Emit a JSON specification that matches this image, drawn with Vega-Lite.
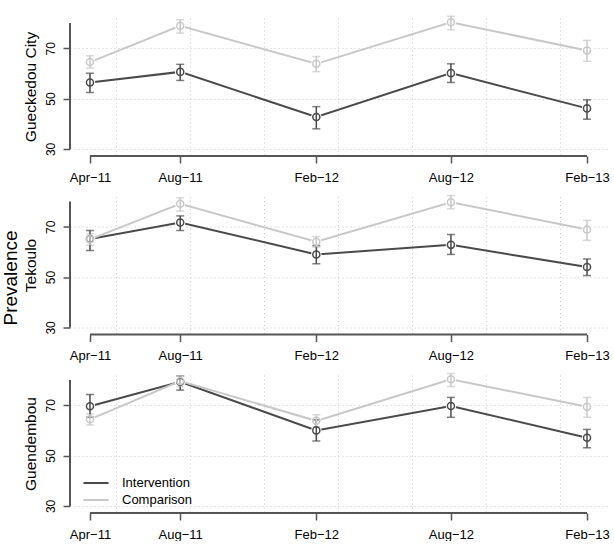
{
  "$schema": "https://vega.github.io/schema/vega-lite/v6.json",
  "padding": {"left": 1, "top": 15, "right": 0, "bottom": 0},
  "background": "white",
  "data": {"values": [
    {"site": "Gueckedou City", "group": "Intervention", "date": "2011-04-01", "value": 56.4, "lo": 52.4, "hi": 60.1},
    {"site": "Gueckedou City", "group": "Intervention", "date": "2011-08-01", "value": 60.6, "lo": 57.2, "hi": 63.6},
    {"site": "Gueckedou City", "group": "Intervention", "date": "2012-02-01", "value": 42.7, "lo": 38.0, "hi": 46.8},
    {"site": "Gueckedou City", "group": "Intervention", "date": "2012-08-01", "value": 60.1, "lo": 56.4, "hi": 63.8},
    {"site": "Gueckedou City", "group": "Intervention", "date": "2013-02-01", "value": 46.1, "lo": 41.8, "hi": 49.5},
    {"site": "Gueckedou City", "group": "Comparison", "date": "2011-04-01", "value": 64.5, "lo": 62.1, "hi": 67.0},
    {"site": "Gueckedou City", "group": "Comparison", "date": "2011-08-01", "value": 78.9, "lo": 76.0, "hi": 81.3},
    {"site": "Gueckedou City", "group": "Comparison", "date": "2012-02-01", "value": 63.8, "lo": 60.7, "hi": 66.7},
    {"site": "Gueckedou City", "group": "Comparison", "date": "2012-08-01", "value": 80.3, "lo": 77.3, "hi": 82.7},
    {"site": "Gueckedou City", "group": "Comparison", "date": "2013-02-01", "value": 69.1, "lo": 64.8, "hi": 73.1},
    {"site": "Tekoulo", "group": "Intervention", "date": "2011-04-01", "value": 65.1, "lo": 60.6, "hi": 68.5},
    {"site": "Tekoulo", "group": "Intervention", "date": "2011-08-01", "value": 71.7, "lo": 68.5, "hi": 74.3},
    {"site": "Tekoulo", "group": "Intervention", "date": "2012-02-01", "value": 59.0, "lo": 55.3, "hi": 62.5},
    {"site": "Tekoulo", "group": "Intervention", "date": "2012-08-01", "value": 62.8, "lo": 59.0, "hi": 66.9},
    {"site": "Tekoulo", "group": "Intervention", "date": "2013-02-01", "value": 54.0, "lo": 50.6, "hi": 57.2},
    {"site": "Tekoulo", "group": "Comparison", "date": "2011-04-01", "value": 65.0, "lo": 62.6, "hi": 67.2},
    {"site": "Tekoulo", "group": "Comparison", "date": "2011-08-01", "value": 79.1, "lo": 76.2, "hi": 81.5},
    {"site": "Tekoulo", "group": "Comparison", "date": "2012-02-01", "value": 64.0, "lo": 61.9, "hi": 66.1},
    {"site": "Tekoulo", "group": "Comparison", "date": "2012-08-01", "value": 79.7, "lo": 77.1, "hi": 82.4},
    {"site": "Tekoulo", "group": "Comparison", "date": "2013-02-01", "value": 68.9, "lo": 64.6, "hi": 72.5},
    {"site": "Guendembou", "group": "Intervention", "date": "2011-04-01", "value": 69.6, "lo": 65.2, "hi": 74.3},
    {"site": "Guendembou", "group": "Intervention", "date": "2011-08-01", "value": 79.3, "lo": 76.0, "hi": 81.6},
    {"site": "Guendembou", "group": "Intervention", "date": "2012-02-01", "value": 60.0, "lo": 55.8, "hi": 64.2},
    {"site": "Guendembou", "group": "Intervention", "date": "2012-08-01", "value": 69.7, "lo": 65.2, "hi": 73.1},
    {"site": "Guendembou", "group": "Intervention", "date": "2013-02-01", "value": 57.1, "lo": 53.1, "hi": 60.4},
    {"site": "Guendembou", "group": "Comparison", "date": "2011-04-01", "value": 64.4, "lo": 62.1, "hi": 66.5},
    {"site": "Guendembou", "group": "Comparison", "date": "2011-08-01", "value": 79.6, "lo": 77.4, "hi": 81.5},
    {"site": "Guendembou", "group": "Comparison", "date": "2012-02-01", "value": 63.8, "lo": 61.4, "hi": 66.2},
    {"site": "Guendembou", "group": "Comparison", "date": "2012-08-01", "value": 80.3, "lo": 77.4, "hi": 82.6},
    {"site": "Guendembou", "group": "Comparison", "date": "2013-02-01", "value": 69.4, "lo": 65.2, "hi": 73.1}
  ]},
  "facet": {
    "row": {
      "field": "site", "type": "nominal",
      "sort": ["Gueckedou City", "Tekoulo", "Guendembou"],
      "header": {
        "title": "Prevalence", "titleFontSize": 19, "titleFont": "Liberation Sans", "titleFontWeight": "normal", "titleColor": "black", "titlePadding": -8,
        "labelFontSize": 15.5, "labelFont": "Liberation Sans", "labelColor": "black", "labelPadding": -2, "labelAngle": -90
      }
    }
  },
  "spacing": {"row": 40.5},
  "bounds": "flush",
  "resolve": {"axis": {"x": "independent"}},
  "spec": {
    "width": 537,
    "height": 138,
    "resolve": {"axis": {"x": "independent"}},
    "layer": [
      {
        "mark": {"type": "line", "strokeWidth": 2},
        "encoding": {
          "x": {"field": "date", "type": "temporal",
            "scale": {"type": "utc", "domain": [{"year": 2011, "month": 3, "date": 5, "utc": true}, {"year": 2013, "month": 2, "date": 28, "utc": true}]},
            "axis": {"values": [{"year": 2011, "month": 4, "date": 1, "utc": true}, {"year": 2011, "month": 8, "date": 1, "utc": true}, {"year": 2012, "month": 2, "date": 1, "utc": true}, {"year": 2012, "month": 8, "date": 1, "utc": true}, {"year": 2013, "month": 2, "date": 1, "utc": true}],
              "format": "%b−%y", "title": null, "grid": false, "domain": false, "tickSize": 7, "tickColor": "#555", "tickWidth": 1.5, "labelFontSize": 13, "labelPadding": 8, "labelColor": "black", "labelFont": "Liberation Sans", "labelFlush": false, "labelOverlap": false}},
          "y": {"field": "value", "type": "quantitative",
            "scale": {"domain": [27.2, 82], "nice": false, "zero": false},
            "axis": {"values": [30, 40, 50, 60, 70, 80], "labelExpr": "datum.value % 20 == 10 ? datum.label : ''", "labelAngle": -90, "title": null, "domain": false, "tickSize": 7, "tickColor": "#555", "tickWidth": 1.5, "grid": true, "gridDash": [1, 3], "gridColor": "#c8c8c8", "labelFontSize": 12, "labelPadding": 6, "labelColor": "black", "labelFont": "Liberation Sans"}},
          "color": {"field": "group", "type": "nominal",
            "scale": {"domain": ["Intervention", "Comparison"], "range": ["#4a4a4a", "#c8c8c8"]},
            "legend": {"orient": "none", "legendX": 19.5, "legendY": 458.5, "title": null, "symbolType": "M-2.5,0H2.5", "symbolSize": 100, "symbolStrokeWidth": 2, "symbolFillColor": "transparent", "labelFontSize": 13, "labelFont": "Liberation Sans", "labelColor": "black", "labelOffset": 19.5, "rowPadding": 3}}
        }
      },
      {
        "mark": {"type": "point", "shape": "circle", "filled": true, "color": "white", "size": 110, "opacity": 1},
        "encoding": {
          "x": {"field": "date", "type": "temporal",
            "axis": {"values": [{"year": 2011, "month": 5, "date": 6, "utc": true}, {"year": 2011, "month": 8, "date": 14, "utc": true}, {"year": 2011, "month": 11, "date": 22, "utc": true}, {"year": 2012, "month": 3, "date": 1, "utc": true}, {"year": 2012, "month": 6, "date": 9, "utc": true}, {"year": 2012, "month": 9, "date": 17, "utc": true}, {"year": 2012, "month": 12, "date": 26, "utc": true}],
              "orient": "bottom", "grid": true, "gridDash": [1, 3], "gridColor": "#c8c8c8", "labels": false, "ticks": false, "domain": false, "title": null}},
          "y": {"field": "value", "type": "quantitative"}
        }
      },
      {
        "mark": {"type": "errorbar", "ticks": {"size": 8}, "thickness": 1.5},
        "encoding": {
          "x": {"field": "date", "type": "temporal", "axis": null},
          "y": {"field": "lo", "type": "quantitative"},
          "y2": {"field": "hi"},
          "color": {"field": "group", "type": "nominal", "legend": null}
        }
      },
      {
        "mark": {"type": "point", "shape": "circle", "filled": false, "size": 50, "strokeWidth": 1.5, "opacity": 1},
        "encoding": {
          "x": {"field": "date", "type": "temporal", "axis": null},
          "y": {"field": "value", "type": "quantitative"},
          "color": {"field": "group", "type": "nominal", "legend": null}
        }
      },
      {
        "transform": [{"aggregate": [{"op": "count", "as": "n"}], "groupby": ["site"]}],
        "mark": {"type": "rule", "color": "#555", "strokeWidth": 2},
        "encoding": {
          "x": {"datum": {"year": 2011, "month": 4, "date": 1, "utc": true}, "type": "temporal", "axis": null},
          "x2": {"datum": {"year": 2013, "month": 2, "date": 1, "utc": true}},
          "y": {"datum": 27.2, "type": "quantitative"}
        }
      },
      {
        "transform": [{"aggregate": [{"op": "count", "as": "n"}], "groupby": ["site"]}],
        "mark": {"type": "rule", "color": "#555", "strokeWidth": 2},
        "encoding": {
          "x": {"datum": {"year": 2011, "month": 3, "date": 5, "utc": true}, "type": "temporal", "axis": null},
          "y": {"datum": 30, "type": "quantitative"},
          "y2": {"datum": 80}
        }
      }
    ]
  },
  "config": {
    "font": "Liberation Sans",
    "view": {"stroke": null}
  }
}
